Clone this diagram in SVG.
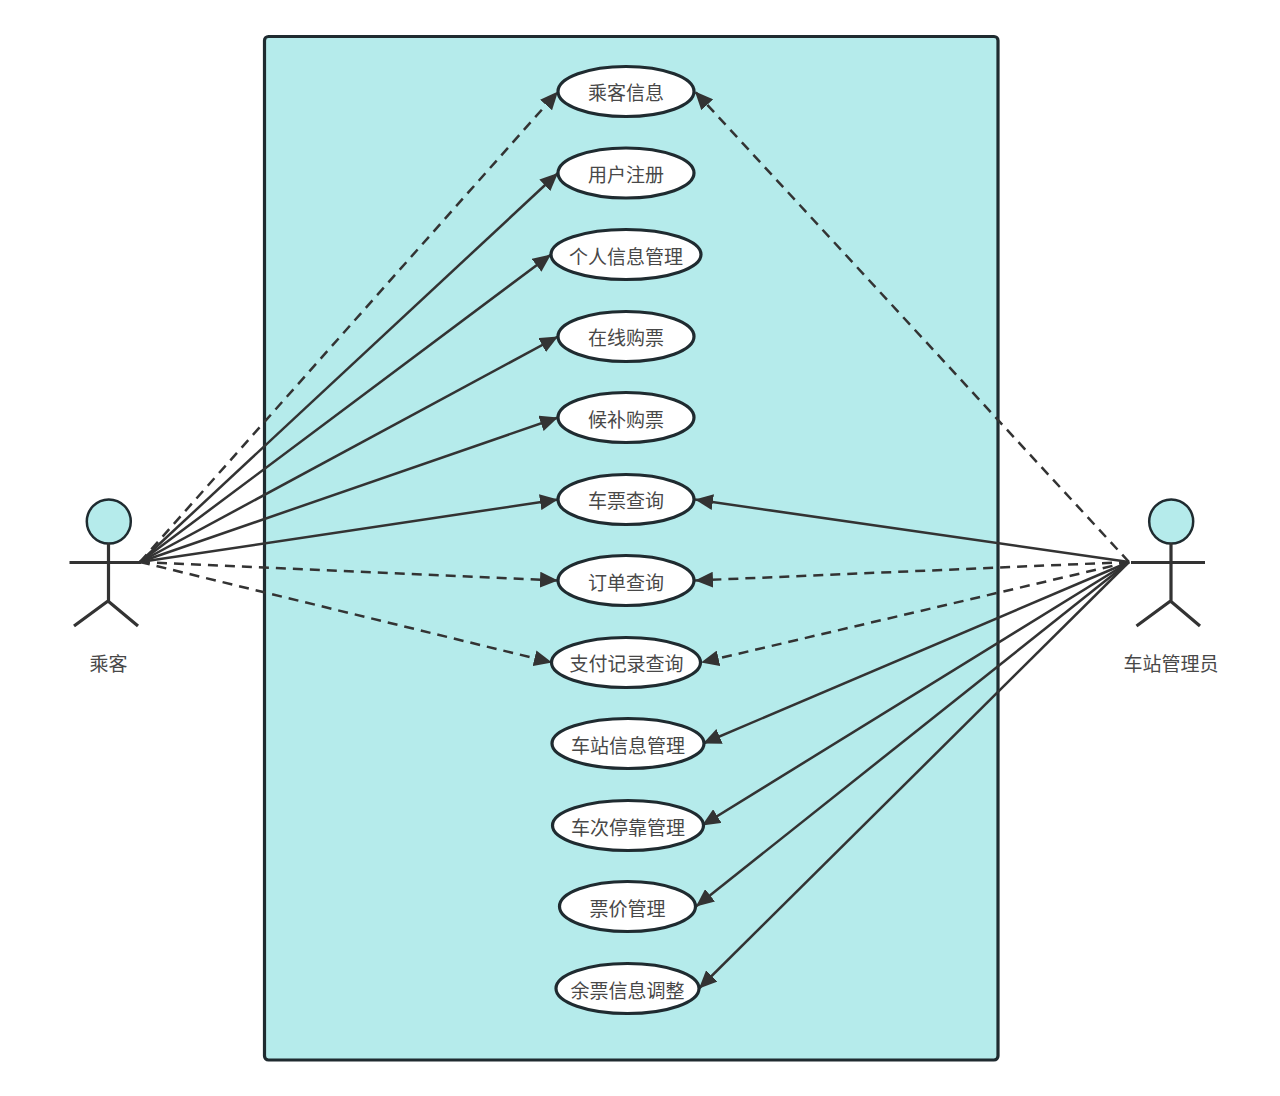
<svg xmlns="http://www.w3.org/2000/svg" width="1280" height="1096" viewBox="0 0 1280 1096">
<style>
text{font-family:"Noto Sans CJK SC","Liberation Sans",sans-serif;font-size:19px;fill:#484848;text-anchor:middle;dominant-baseline:central}
.uc{fill:#fff;stroke:#1f2b30;stroke-width:3.200}
.head{fill:#b5ebeb;stroke:#1f2b30;stroke-width:2.500}
.stick{fill:none;stroke:#333;stroke-width:3.200}
.c{fill:none;stroke:#333;stroke-width:2.500;marker-end:url(#a)}
.d{stroke-dasharray:10 7}
</style>
<defs>
<marker id="a" markerUnits="userSpaceOnUse" markerWidth="20" markerHeight="16" refX="18" refY="8" orient="auto" viewBox="0 0 20 16"><path d="M0 0L18 8L0 16Z" fill="#333"/></marker>
</defs>
<rect id="boundary" x="264.500" y="36.500" width="733.500" height="1023.500" rx="4" fill="#b5ebeb" stroke="#1f2b30" stroke-width="3.200"/>
<g id="connectors">
<path class="c d" d="M140 562L558 91.500"/>
<path class="c" d="M140 562L558 173"/>
<path class="c" d="M140 562L551 254.500"/>
<path class="c" d="M140 562L558 336.500"/>
<path class="c" d="M140 562L558 417.500"/>
<path class="c" d="M140 562L558 499.500"/>
<path class="c d" d="M140 562L558 580.500"/>
<path class="c d" d="M140 562L552 662.500"/>
<path class="c d" d="M1129 562L695 91.500"/>
<path class="c" d="M1129 562L695 499.500"/>
<path class="c d" d="M1129 562L695 580.500"/>
<path class="c d" d="M1129 562L701 662.500"/>
<path class="c" d="M1129 562L703 743.500"/>
<path class="c" d="M1129 562L702 825.500"/>
<path class="c" d="M1129 562L696 906.500"/>
<path class="c" d="M1129 562L699 988.500"/>
</g>
<g id="actor-passenger"><circle class="head" cx="108.800" cy="521.500" r="22"/><path class="stick" d="M108.500 543V601M69.500 562.500H141M74 626L108 601L138 626"/><text x="108.500" y="662">乘客</text></g>
<g id="actor-admin"><circle class="head" cx="1171.200" cy="521.500" r="22"/><path class="stick" d="M1171 543V601M1131 562.500H1205M1136.500 626L1170.500 601L1200 626"/><text x="1171" y="662">车站管理员</text></g>
<g id="uc1"><ellipse class="uc" cx="626" cy="91.500" rx="68" ry="25"/><text x="626" y="91">乘客信息</text></g>
<g id="uc2"><ellipse class="uc" cx="626" cy="173" rx="68" ry="25"/><text x="626" y="173">用户注册</text></g>
<g id="uc3"><ellipse class="uc" cx="626" cy="254.500" rx="75" ry="25"/><text x="626" y="255">个人信息管理</text></g>
<g id="uc4"><ellipse class="uc" cx="626" cy="336.500" rx="68" ry="25"/><text x="626" y="336">在线购票</text></g>
<g id="uc5"><ellipse class="uc" cx="626" cy="417.500" rx="68" ry="25"/><text x="626" y="418">候补购票</text></g>
<g id="uc6"><ellipse class="uc" cx="626" cy="499.500" rx="68" ry="25"/><text x="626" y="499">车票查询</text></g>
<g id="uc7"><ellipse class="uc" cx="626" cy="580.500" rx="68" ry="25"/><text x="626" y="581">订单查询</text></g>
<g id="uc8"><ellipse class="uc" cx="626" cy="662.500" rx="74.500" ry="25"/><text x="626.500" y="662">支付记录查询</text></g>
<g id="uc9"><ellipse class="uc" cx="628" cy="743.500" rx="76" ry="25"/><text x="628" y="744">车站信息管理</text></g>
<g id="uc10"><ellipse class="uc" cx="628" cy="825.500" rx="75.500" ry="25"/><text x="628" y="826">车次停靠管理</text></g>
<g id="uc11"><ellipse class="uc" cx="627.500" cy="906.500" rx="68" ry="25"/><text x="627.500" y="907">票价管理</text></g>
<g id="uc12"><ellipse class="uc" cx="627.500" cy="988.500" rx="71.500" ry="25"/><text x="627.500" y="989">余票信息调整</text></g>
</svg>
